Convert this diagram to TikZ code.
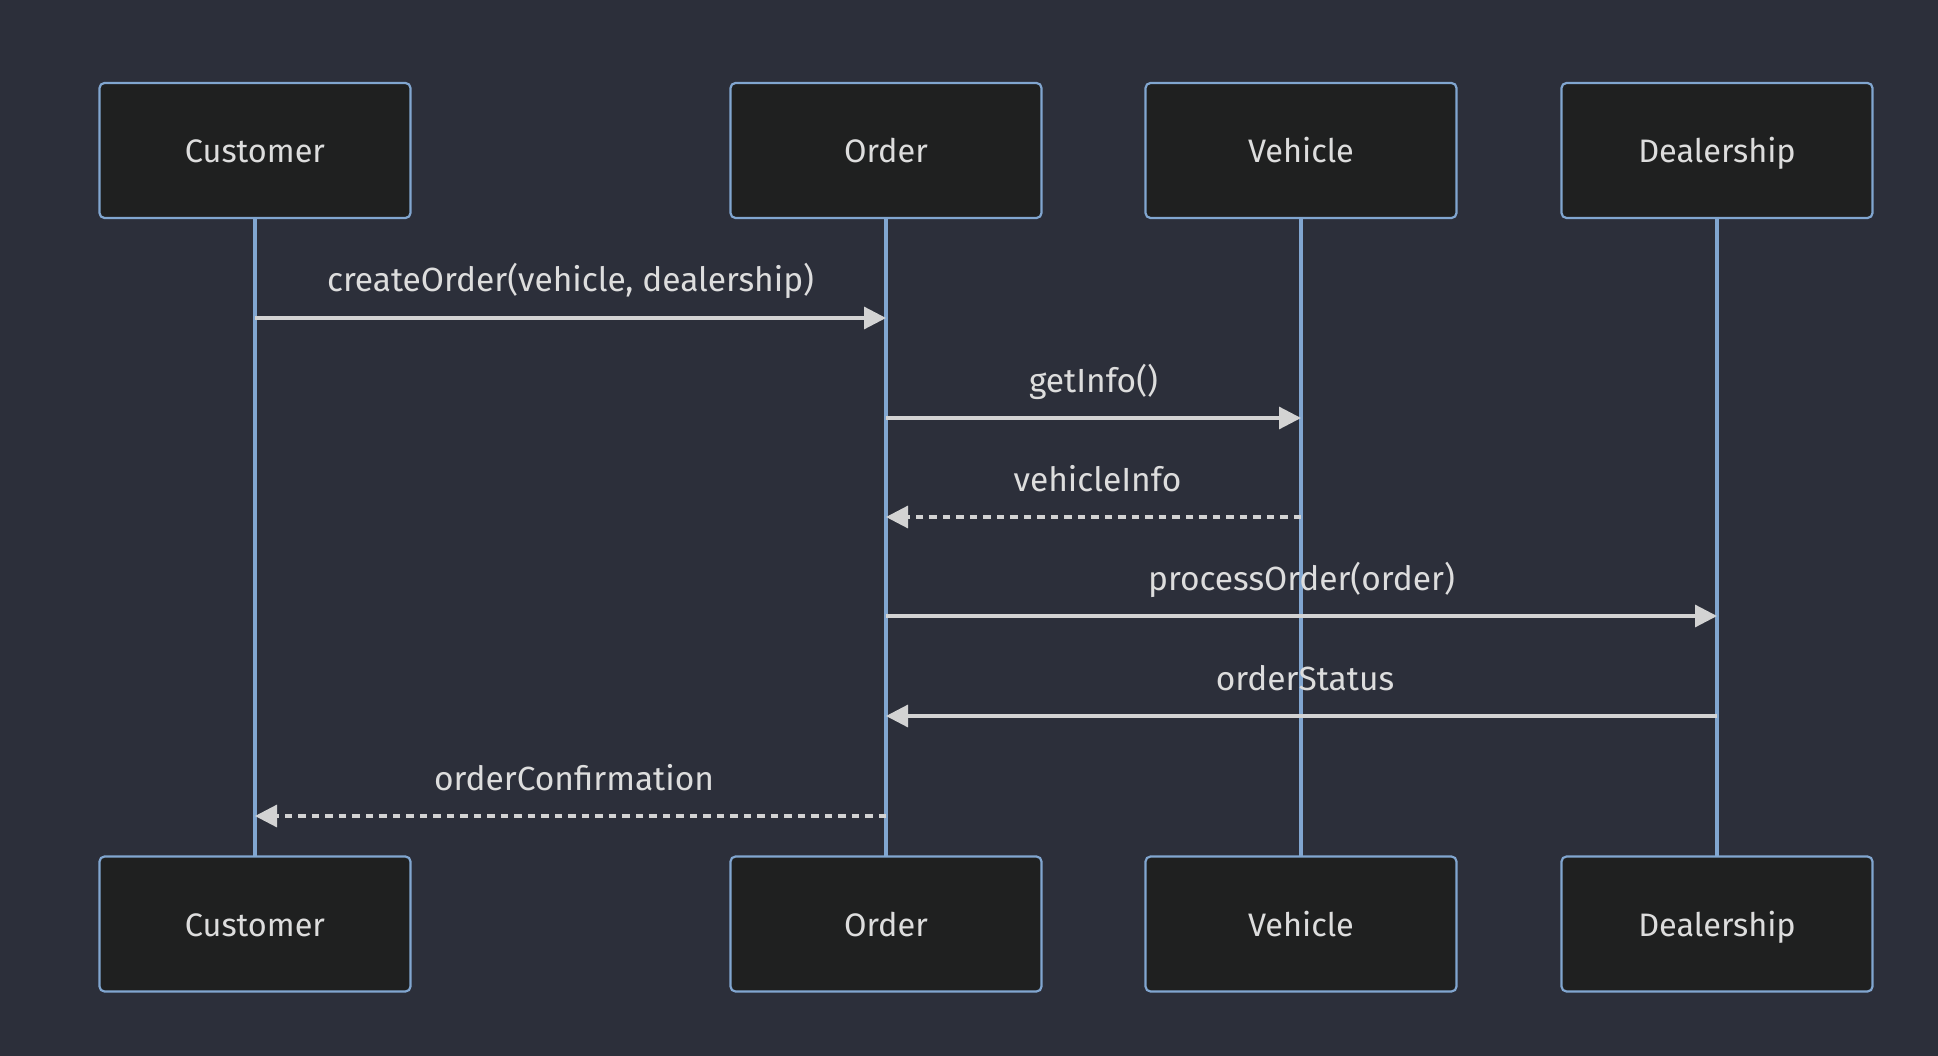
\documentclass[tikz,border=0pt]{standalone}
\usepackage{fontspec}
\setmainfont{Fira Sans}
\usetikzlibrary{arrows.meta}
\definecolor{bg}{HTML}{2C2F3A}
\definecolor{boxfill}{HTML}{1F2020}
\definecolor{boxline}{HTML}{81A6D0}
\definecolor{txt}{HTML}{DDDDDD}
\definecolor{msg}{HTML}{D3D3D3}
\tikzset{
  actor/.style={draw=boxline, line width=2.2pt, fill=boxfill, rounded corners=5pt,
    minimum width=311pt, minimum height=135pt, inner sep=0pt, text=txt,
    text height=28pt, text depth=3pt,
    font=\fontsize{32.5}{38}\selectfont},
  life/.style={draw=boxline, line width=3.8pt},
  msgline/.style={draw=msg, line width=3.2pt, -{Triangle[length=22pt,width=22pt]}},
  retline/.style={msgline, dash pattern=on 7.5pt off 6pt},
  lbl/.style={text=txt, anchor=base, font=\fontsize{33.5}{38}\selectfont}
}
\begin{document}
\begin{tikzpicture}[x=1pt,y=-1pt]
\fill[bg] (0,0) rectangle (1938,1056);
\useasboundingbox (0,0) rectangle (1938,1056);
% actors top
\node[actor] (cT) at (255,150.5) {Customer};
\node[actor] (oT) at (886,150.5) {Order};
\node[actor] (vT) at (1301,150.5) {Vehicle};
\node[actor] (dT) at (1717,150.5) {Dealership};
% lifelines (drawn before bottom boxes)
\coordinate (cL) at (255,857);
\coordinate (oL) at (886,857);
\coordinate (vL) at (1301,857);
\coordinate (dL) at (1717,857);
\draw[life] (cT.south) -- (cL);
\draw[life] (oT.south) -- (oL);
\draw[life] (vT.south) -- (vL);
\draw[life] (dT.south) -- (dL);
% actors bottom
\node[actor] (cB) at (255,924) {Customer};
\node[actor] (oB) at (886,924) {Order};
\node[actor] (vB) at (1301,924) {Vehicle};
\node[actor] (dB) at (1717,924) {Dealership};
% message anchor points
\coordinate (c1) at (255,318);  \coordinate (o1) at (886,318);
\coordinate (o2) at (886,418);  \coordinate (v2) at (1301,418);
\coordinate (v3) at (1301,517); \coordinate (o3) at (886,517);
\coordinate (o4) at (886,616);  \coordinate (d4) at (1717,616);
\coordinate (d5) at (1717,716); \coordinate (o5) at (886,716);
\coordinate (o6) at (886,816);  \coordinate (c6) at (255,816);
% messages
\draw[msgline] (c1) -- (o1);
\node[lbl] (l1) at (570.5,292) {createOrder(vehicle, dealership)};
\draw[msgline] (o2) -- (v2);
\node[lbl] (l2) at (1093.5,392) {getInfo()};
\draw[retline] (v3) -- (o3);
\node[lbl] (l3) at (1097.5,491) {vehicleInfo};
\draw[msgline] (o4) -- (d4);
\node[lbl] (l4) at (1301.5,590) {processOrder(order)};
\draw[msgline] (d5) -- (o5);
\node[lbl] (l5) at (1305,690) {orderStatus};
\draw[retline] (o6) -- (c6);
\node[lbl] (l6) at (574,790) {orderConfirmation};
\end{tikzpicture}
\end{document}
